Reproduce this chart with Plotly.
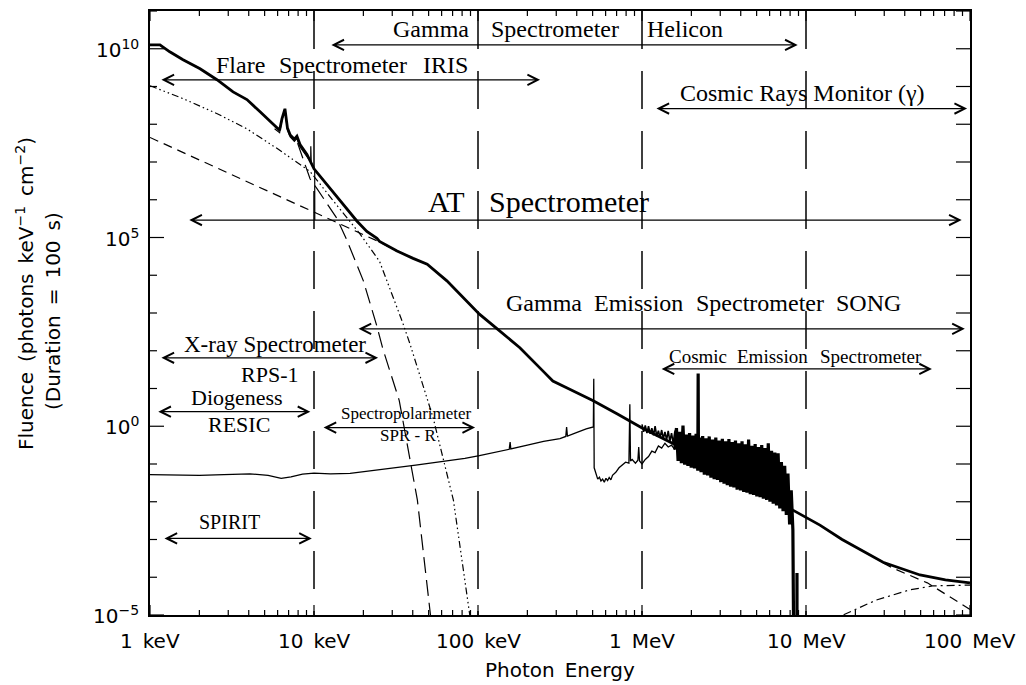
import math
import plotly.graph_objects as go

# ---------------------------------------------------------------- data
# total model spectrum (thick solid)
energy_total_keV = [1.0, 1.15, 1.32, 1.59, 2.02, 2.56, 3.21, 3.90, 4.69, 5.75, 6.17, 6.38, 6.65, 6.89,
                    7.16, 7.59, 7.87, 8.22, 9.06, 10.0, 12.5, 15.8, 18.3, 21.0, 24.2, 25.1, 32.1, 40.2,
                    49.0, 64.6, 81.3, 102, 131, 180, 251, 286, 347, 501, 708, 1014, 2042, 3311, 5248,
                    8318, 12160, 16600, 29510, 39810, 49550, 70790, 100000]
fluence_total = [1.26e10, 1.26e10, 8.3e9, 5.1e9, 2.95e9, 1.51e9, 7.2e8, 4.5e8, 2.14e8, 8.9e7, 6.9e7,
                 1.41e8, 2.57e8, 7.9e7, 5.2e7, 4.0e7, 4.8e7, 2.9e7, 1.58e7, 6.6e6, 2.0e6, 5.9e5, 2.7e5,
                 1.45e5, 9.5e4, 7.9e4, 4.4e4, 2.8e4, 1.95e4, 7.1e3, 2.5e3, 930, 380, 120, 28, 15.8, 10.5,
                 4.8, 2.1, 0.87, 0.19, 0.056, 0.020, 6.0e-3, 2.4e-3, 1.0e-3, 2.5e-4, 1.58e-4, 1.15e-4,
                 8.5e-5, 7.1e-5]

# cooler thermal component (long dash)
energy_th1_keV = [7.94, 9.46, 10.4, 12.0, 13.8, 15.8, 20.0, 24.0, 26.3, 33.1, 42.7, 51.3, 56.2]
fluence_th1 = [3.16e7, 3.6e6, 2.0e6, 7.6e5, 3.2e5, 8.9e4, 7.1e3, 501, 112, 4.8, 0.011, 1e-5, 1e-7]

# hotter thermal component (dash-dot-dot-dot)
energy_th2_keV = [1.0, 1.585, 2.57, 3.89, 5.94, 9.46, 13.8, 19.1, 25.1, 28.8, 34.7, 38.5, 53.2, 70.8,
                  89.1, 100]
fluence_th2 = [1.05e9, 4.8e8, 1.9e8, 7.6e7, 2.3e7, 5.6e6, 7.1e5, 1.23e5, 2.34e4, 5.0e3, 562, 151, 1.7,
               0.011, 1e-5, 1e-7]

# non-thermal bremsstrahlung (dashed), visible low and high energy parts
energy_nt_low_keV = [1.0, 10.0, 15.8, 25.1, 32.1]
fluence_nt_low = [4.47e7, 4.68e5, 1.86e5, 7.6e4, 4.3e4]
energy_nt_high_keV = [29510, 33900, 54950, 91200, 100000]
fluence_nt_high = [2.4e-4, 1.74e-4, 7.1e-5, 1.82e-5, 1.41e-5]

# pion-decay component (dash-dot)
energy_pi_keV = [14000, 16800, 26900, 42700, 58900, 100000]
fluence_pi = [5.0e-6, 1.0e-5, 2.5e-5, 4.6e-5, 5.9e-5, 6.2e-5]

# thermal line spectrum (thin solid, cut at 10 keV)
energy_lines_keV = [5.75, 6.17, 6.38, 6.65, 6.89, 7.16, 7.59, 7.87, 8.22, 9.06, 9.55, 9.56, 9.62, 10.1, 10.11]
fluence_lines = [7.6e7, 6.0e7, 1.3e8, 2.4e8, 7.0e7, 4.6e7, 3.5e7, 4.2e7, 2.5e7, 1.35e7, 1.0e7, 2.6e7,
                 9.5e6, 6.5e6, 2.9e5]

# background / simulated measured spectrum (thin noisy solid)
energy_bg_low_keV = [1.0, 1.41, 2.0, 2.82, 4.07, 5.25, 6.31, 7.24, 8.51, 10.0, 12.6, 16.6, 20.0, 25.1,
                     33.1, 41.7, 52.5, 67.6, 83.2, 102, 126, 155, 157, 158.5, 200, 251, 316, 343, 347,
                     351, 398, 457, 505, 508, 511]
fluence_bg_low = [0.0525, 0.0513, 0.0501, 0.0525, 0.0550, 0.0501, 0.0417, 0.0457, 0.0537, 0.0575,
                  0.0550, 0.0562, 0.0617, 0.0692, 0.0813, 0.0933, 0.107, 0.123, 0.141, 0.166, 0.204,
                  0.245, 0.380, 0.251, 0.316, 0.398, 0.468, 0.537, 0.955, 0.550, 0.676, 0.851, 0.955,
                  18.2, 0.0794]
energy_bg_mid_keV = [525, 537, 550, 562, 575, 589, 603, 617, 631, 646, 661, 692, 724, 759, 794, 832, 843,
                     851, 871, 912, 944, 955, 966, 1000, 1047, 1096, 1148, 1202, 1259, 1318, 1380, 1445,
                     1514, 1585]
fluence_bg_mid = [0.0525, 0.0398, 0.0447, 0.0355, 0.0398, 0.0331, 0.0417, 0.0363, 0.0437, 0.0380,
                  0.0501, 0.0603, 0.0794, 0.0955, 0.112, 0.105, 3.80, 0.120, 0.132, 0.105, 0.126, 0.282,
                  0.120, 0.100, 0.132, 0.158, 0.219, 0.200, 0.302, 0.263, 0.355, 0.282, 0.316, 0.240]
energy_bg_band_keV = [1585, 1622, 1660, 1698, 1738, 1778, 1820, 1862, 1905, 1950, 1995, 2042, 2089, 2138,
                      2188, 2200, 2210, 2239, 2291, 2344, 2399, 2455, 2512, 2570, 2630, 2692, 2754, 2818,
                      2884, 2951, 3020, 3090, 3162, 3236, 3311, 3388, 3467, 3548, 3631, 3715, 3802, 3890,
                      3981, 4074, 4169, 4266, 4365, 4467, 4571, 4677, 4786, 4898, 5012, 5129, 5248, 5370,
                      5495, 5623, 5754, 5888, 6026, 6166, 6310, 6457, 6607, 6761, 6918, 7079, 7244, 7413,
                      7586, 7762, 7943, 8128, 8318]
fluence_bg_band = [0.240, 0.891, 0.120, 0.708, 0.105, 1.047, 0.0955, 0.603, 0.0891, 0.661, 0.0794,
                   0.562, 0.0759, 0.631, 0.0661, 25.1, 0.10, 0.501, 0.0603, 0.550, 0.0525, 0.479, 0.0501,
                   0.537, 0.0437, 0.447, 0.0398, 0.501, 0.0380, 0.417, 0.0331, 0.468, 0.0302, 0.398,
                   0.0275, 0.457, 0.0251, 0.380, 0.0240, 0.417, 0.0209, 0.355, 0.0200, 0.398, 0.0182,
                   0.331, 0.0174, 0.447, 0.0158, 0.302, 0.0151, 0.339, 0.0138, 0.282, 0.0132, 0.316,
                   0.0120, 0.263, 0.0112, 0.355, 0.0100, 0.224, 0.00891, 0.200, 0.00794, 0.191, 0.00661,
                   0.112, 0.00562, 0.0891, 0.00447, 0.0562, 0.00251, 0.0200, 0.00178]
energy_bg_tail_keV = [8450, 8800, 8810, 8820]
fluence_bg_tail = [1e-7, 1e-7, 1.3e-4, 1e-7]

# noisy part riding on the total spectrum between 1 and 1.6 MeV
energy_top_keV = [1000, 1023, 1047, 1072, 1096, 1122, 1148, 1175, 1202, 1230, 1259, 1288, 1318, 1349,
                  1380, 1413, 1445, 1479, 1514, 1549, 1585, 1622]
fluence_top = [1.12, 0.708, 1.047, 0.661, 1.0, 0.631, 0.891, 0.575, 1.0, 0.537, 0.759, 0.501, 0.794,
               0.468, 0.708, 0.437, 0.759, 0.398, 0.661, 0.355, 0.708, 0.891]

# energy band boundaries (vertical dashed lines)
boundary_keV = [10, 100, 1000, 10000]

# instrument ranges (double arrows): low end, high end, fluence level
inst_lo_keV = [12.5, 1.15, 1200, 1.7, 18.3, 1.15, 1.1, 11.2, 1.2, 1290]
inst_hi_keV = [8900, 239, 96000, 89000, 93000, 24.6, 9.5, 96, 9.7, 58600]
inst_level = [1.26e10, 1.5e9, 2.6e8, 2.9e5, 380, 65, 2.43, 0.92, 1.07e-3, 33]

x_major_vals = [1, 10, 100, 1000, 10000, 100000]
x_major_text = ["1\u2002keV", "10\u2002keV", "100\u2002keV", "1\u2002MeV", "10\u2002MeV", "100\u2002MeV"]
y_tick_vals = [1e-5, 1, 1e5, 1e10]
y_tick_text = ["10<sup>\u22125</sup>", "10<sup>0</sup>", "10<sup>5</sup>", "10<sup>10</sup>"]

# ---------------------------------------------------------------- layout helpers
W, H = 1026, 685
PL, PR, PT, PB = 150, 970, 9, 615
PW, PH = PR - PL, PB - PT


def paper(px, py):
    return (px - PL) / PW, (PB - py) / PH


x_minor = [m * 10 ** d for d in range(0, 5) for m in range(2, 10)]
y_decades = [10.0 ** k for k in range(-5, 12)]

fig = go.Figure()


def line(x, y, width=1.2, dash="solid"):
    fig.add_trace(go.Scatter(x=x, y=y, mode="lines",
                             line=dict(color="black", width=width, dash=dash),
                             hoverinfo="skip", showlegend=False))


for e in boundary_keV:
    line([e, e], [1e11, 1e-5], width=1.5, dash="38px,22px")

line(energy_th1_keV, fluence_th1, width=1.2, dash="16px,7px")
line(energy_th2_keV, fluence_th2, width=1.2, dash="7px,3px,1.5px,3px,1.5px,3px,1.5px,3px")
line(energy_nt_low_keV, fluence_nt_low, width=1.2, dash="9px,6px")
line(energy_nt_high_keV, fluence_nt_high, width=1.2, dash="9px,6px")
line(energy_pi_keV, fluence_pi, width=1.2, dash="8px,4px,2px,4px")
line(energy_lines_keV, fluence_lines, width=1.2)

line(energy_bg_low_keV + energy_bg_mid_keV, fluence_bg_low + fluence_bg_mid, width=1.3)
line(energy_bg_band_keV + energy_bg_tail_keV, fluence_bg_band + fluence_bg_tail, width=3.2)
line(energy_top_keV, fluence_top, width=1.6)

line(energy_total_keV, fluence_total, width=2.8)

# ---------------------------------------------------------------- inward tick marks (axis scale positions)
tick_style = dict(color="black", width=1.2)


def xtick(v, length_px):
    f = length_px / PH
    fig.add_shape(type="line", xref="x", yref="paper", x0=v, x1=v, y0=0, y1=f, line=tick_style)
    fig.add_shape(type="line", xref="x", yref="paper", x0=v, x1=v, y0=1, y1=1 - f, line=tick_style)


def ytick(v, left_px, right_px):
    fig.add_shape(type="line", xref="paper", yref="y", x0=0, x1=left_px / PW, y0=v, y1=v,
                  line=tick_style)
    fig.add_shape(type="line", xref="paper", yref="y", x0=1, x1=1 - right_px / PW, y0=v, y1=v,
                  line=tick_style)


for v in x_minor:
    xtick(v, 5)
for v in x_major_vals:
    xtick(v, 10)
for v in y_decades:
    ytick(v, 14 if v in y_tick_vals else 7, 14)

# instrument arrows
for lo, hi, lev in zip(inst_lo_keV, inst_hi_keV, inst_level):
    fig.add_annotation(x=math.log10(hi), y=math.log10(lev), ax=math.log10(lo), ay=math.log10(lev),
                       xref="x", yref="y", axref="x", ayref="y", text="", showarrow=True,
                       arrowhead=5, startarrowhead=5, arrowside="end+start", arrowsize=1.7,
                       startarrowsize=1.7, arrowwidth=1.2, arrowcolor="black", standoff=0,
                       startstandoff=0)

labels = [
    ("Gamma", 431, 27, 24), ("Spectrometer", 555, 27, 24), ("Helicon", 685, 27, 24),
    ("Flare", 240, 63, 24), ("Spectrometer", 343, 63, 24), ("IRIS", 445, 63, 24),
    ("Cosmic Rays Monitor (\u03b3)", 802, 91, 24),
    ("AT", 446, 200, 30), ("Spectrometer", 569, 200, 30),
    ("Gamma", 544, 302, 24), ("Emission", 638, 302, 24), ("Spectrometer", 760, 302, 24),
    ("SONG", 868, 302, 24),
    ("X-ray Spectrometer", 275, 344, 23), ("RPS-1", 269, 374, 22),
    ("Diogeness", 237, 397, 22), ("RESIC", 239, 424, 22),
    ("Spectropolarimeter", 406, 413, 17), ("SPR - R", 408, 435, 17),
    ("SPIRIT", 229, 522, 20),
    ("Cosmic", 698, 356, 19), ("Emission", 772, 356, 19), ("Spectrometer", 871, 356, 19),
]
for txt, px, py, sz in labels:
    xx, yy = paper(px, py)
    fig.add_annotation(x=xx, y=yy, xref="paper", yref="paper", text=txt, showarrow=False,
                       xanchor="center", yanchor="middle",
                       font=dict(family="Liberation Serif", size=sz, color="black"))

sans = dict(family="DejaVu Sans", size=20, color="black")

# tick labels (placed on the axis scales)
_, y_lab = paper(0, 641)
for v, t in zip(x_major_vals, x_major_text):
    fig.add_annotation(x=math.log10(v), y=y_lab, xref="x", yref="paper", text=t, showarrow=False,
                       xanchor="center", yanchor="middle", font=sans)
x_lab, _ = paper(141, 0)
for v, t in zip(y_tick_vals, y_tick_text):
    fig.add_annotation(x=x_lab, y=math.log10(v), xref="paper", yref="y", text=t, showarrow=False,
                       xanchor="right", yanchor="middle", font=sans)

xx, yy = paper(560, 670)
fig.add_annotation(x=xx, y=yy, xref="paper", yref="paper", text="Photon\u2002Energy", showarrow=False,
                   xanchor="center", yanchor="middle", font=sans)
xx, yy = paper(25, 293)
fig.add_annotation(x=xx, y=yy, xref="paper", yref="paper", textangle=-90,
                   text="Fluence\u2002(photons\u2002keV<sup>\u22121</sup>\u2002cm<sup>\u22122</sup>)",
                   showarrow=False, xanchor="center", yanchor="middle", font=sans)
xx, yy = paper(53, 310)
fig.add_annotation(x=xx, y=yy, xref="paper", yref="paper", textangle=-90,
                   text="(Duration\u2002=\u2002100\u2002s)",
                   showarrow=False, xanchor="center", yanchor="middle", font=sans)

fig.update_layout(
    width=W, height=H, autosize=False,
    margin=dict(l=PL, r=W - PR, t=PT, b=H - PB),
    paper_bgcolor="white", plot_bgcolor="white", showlegend=False,
    xaxis=dict(type="log", range=[0, 5], showline=True, linecolor="black", linewidth=1.5,
               mirror=True, ticks="", showticklabels=False, showgrid=False, zeroline=False),
    yaxis=dict(type="log", range=[-5, 11], showline=True, linecolor="black", linewidth=1.5,
               mirror=True, ticks="", showticklabels=False, showgrid=False, zeroline=False),
)

fig.write_html("out.html")
